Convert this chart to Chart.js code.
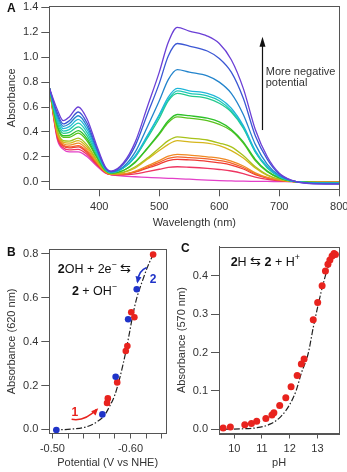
<!DOCTYPE html>
<html>
<head>
<meta charset="utf-8">
<script src="https://cdn.jsdelivr.net/npm/chart.js@4.4.0/dist/chart.umd.min.js"></script>
<style>
  body { margin: 0; background: #fff; }
  canvas { position: absolute; }
  .panel { position: absolute; font: bold 12px 'Liberation Sans', Arial, sans-serif; line-height: 12px; color: #111; }
</style>
</head>
<body>
<canvas id="chartA" width="347" height="232" style="left:0;top:0"></canvas>
<canvas id="chartB" width="173" height="240" style="left:0;top:232px"></canvas>
<canvas id="chartC" width="174" height="240" style="left:173px;top:232px"></canvas>
<div class="panel" style="left:7px;top:2px">A</div>
<div class="panel" style="left:7px;top:246px">B</div>
<div class="panel" style="left:181px;top:242px">C</div>
<script>
// ---- panel A: spectra ----
const wavelengths = [317, 330, 340, 350, 365, 380, 395, 410, 420, 440, 460, 480, 500, 515, 530, 550, 580, 600, 620, 640, 660, 680, 700, 720, 750, 800];
const absViolet  = [0.75, 0.58, 0.49, 0.52, 0.60, 0.50, 0.30, 0.12, 0.085, 0.15, 0.32, 0.60, 0.88, 1.12, 1.24, 1.21, 1.17, 1.11, 0.98, 0.75, 0.42, 0.20, 0.068, 0.012, -0.015, -0.02];
const absBlue    = [0.75, 0.553, 0.464, 0.489, 0.56, 0.467, 0.281, 0.114, 0.082, 0.14, 0.29, 0.54, 0.79, 1.01, 1.11, 1.09, 1.05, 0.99, 0.88, 0.67, 0.37, 0.18, 0.061, 0.011, -0.013, -0.018];
const absSky     = [0.75, 0.533, 0.445, 0.466, 0.53, 0.442, 0.267, 0.11, 0.079, 0.12, 0.24, 0.44, 0.65, 0.82, 0.90, 0.88, 0.85, 0.80, 0.71, 0.54, 0.30, 0.14, 0.05, 0.009, -0.01, -0.015];
const absCyan    = [0.75, 0.513, 0.426, 0.442, 0.50, 0.417, 0.253, 0.106, 0.077, 0.11, 0.21, 0.37, 0.54, 0.68, 0.75, 0.73, 0.71, 0.67, 0.59, 0.45, 0.25, 0.12, 0.042, 0.007, -0.008, -0.012];
const absAqua    = [0.75, 0.493, 0.407, 0.419, 0.47, 0.392, 0.239, 0.102, 0.074, 0.11, 0.20, 0.36, 0.53, 0.66, 0.73, 0.71, 0.69, 0.65, 0.57, 0.44, 0.24, 0.12, 0.04, 0.007, -0.008, -0.012];
const absTeal    = [0.75, 0.473, 0.388, 0.396, 0.44, 0.367, 0.225, 0.098, 0.072, 0.11, 0.20, 0.35, 0.51, 0.65, 0.71, 0.69, 0.67, 0.63, 0.56, 0.43, 0.24, 0.11, 0.04, 0.007, -0.007, -0.01];
const absGreen   = [0.75, 0.453, 0.369, 0.372, 0.41, 0.342, 0.21, 0.094, 0.069, 0.09, 0.16, 0.27, 0.39, 0.49, 0.54, 0.53, 0.51, 0.48, 0.42, 0.32, 0.18, 0.085, 0.03, 0.005, -0.005, -0.008];
const absLime    = [0.75, 0.44, 0.356, 0.357, 0.39, 0.325, 0.201, 0.091, 0.068, 0.09, 0.155, 0.265, 0.38, 0.475, 0.52, 0.51, 0.49, 0.46, 0.41, 0.31, 0.17, 0.08, 0.03, 0.005, -0.005, -0.008];
const absOlive   = [0.75, 0.413, 0.33, 0.326, 0.35, 0.292, 0.182, 0.085, 0.064, 0.076, 0.12, 0.19, 0.27, 0.33, 0.36, 0.35, 0.335, 0.31, 0.28, 0.21, 0.12, 0.056, 0.02, 0.004, -0.004, -0.005];
const absYellow  = [0.75, 0.40, 0.318, 0.31, 0.33, 0.275, 0.173, 0.083, 0.063, 0.073, 0.11, 0.18, 0.25, 0.30, 0.33, 0.32, 0.31, 0.29, 0.25, 0.19, 0.11, 0.05, 0.018, 0.003, -0.003, -0.005];
const absOrange  = [0.75, 0.387, 0.305, 0.294, 0.31, 0.258, 0.163, 0.08, 0.061, 0.063, 0.086, 0.127, 0.17, 0.205, 0.22, 0.214, 0.20, 0.19, 0.166, 0.126, 0.071, 0.034, 0.012, 0.002, -0.002, -0.004];
const absVermil  = [0.75, 0.373, 0.292, 0.279, 0.29, 0.242, 0.154, 0.077, 0.059, 0.061, 0.081, 0.118, 0.156, 0.187, 0.20, 0.194, 0.183, 0.17, 0.15, 0.114, 0.064, 0.031, 0.011, 0.002, -0.002, -0.003];
const absRed     = [0.75, 0.367, 0.286, 0.271, 0.28, 0.233, 0.149, 0.076, 0.058, 0.06, 0.077, 0.109, 0.142, 0.169, 0.18, 0.175, 0.164, 0.152, 0.134, 0.102, 0.057, 0.028, 0.01, 0.002, -0.002, -0.003];
const absRose    = [0.75, 0.353, 0.273, 0.256, 0.26, 0.217, 0.14, 0.073, 0.057, 0.054, 0.063, 0.081, 0.10, 0.115, 0.12, 0.116, 0.107, 0.098, 0.086, 0.065, 0.037, 0.018, 0.007, 0.001, -0.001, -0.002];
const absMagenta = [0.75, 0.34, 0.26, 0.24, 0.24, 0.20, 0.13, 0.07, 0.055, 0.045, 0.04, 0.035, 0.03, 0.027, 0.025, 0.02, 0.012, 0.008, 0.006, 0.004, 0.003, 0.002, 0.001, 0, 0, 0];
const wlTicks = [400, 500, 600, 700, 800];
const absTicksA = [0, 0.2, 0.4, 0.6, 0.8, 1.0, 1.2, 1.4];

// ---- panel B: absorbance at 620 nm vs potential ----
const potRed = [-0.629, -0.605, -0.601, -0.596, -0.594, -0.583, -0.571, -0.570];
const absRedB = [0.797, 0.511, 0.534, 0.380, 0.357, 0.214, 0.141, 0.120];
const potBlue = [-0.505, -0.564, -0.581, -0.597, -0.608];
const absBlueB = [-0.003, 0.068, 0.240, 0.502, 0.639];
const potFit = [-0.501, -0.527, -0.544, -0.556, -0.566, -0.573, -0.580, -0.585, -0.590, -0.5945, -0.599, -0.603, -0.608, -0.615, -0.622, -0.629];
const absFitB = [-0.003, 0.002, 0.012, 0.032, 0.061, 0.103, 0.157, 0.217, 0.289, 0.362, 0.446, 0.522, 0.598, 0.674, 0.742, 0.797];
const potTicks = [-0.50, -0.52, -0.54, -0.56, -0.58, -0.60, -0.62, -0.64];
const potLabels = [-0.50, -0.60];
const absTicksB = [0, 0.2, 0.4, 0.6, 0.8];

// ---- panel C: absorbance at 570 nm vs pH ----
const phPts = [9.60, 9.86, 10.38, 10.62, 10.81, 11.14, 11.36, 11.43, 11.64, 11.86, 12.05, 12.27, 12.42, 12.52, 12.85, 13.01, 13.17, 13.29, 13.38, 13.45, 13.53, 13.60, 13.65];
const absPts = [0.003, 0.006, 0.012, 0.015, 0.021, 0.028, 0.037, 0.043, 0.062, 0.082, 0.111, 0.140, 0.170, 0.183, 0.285, 0.330, 0.374, 0.412, 0.430, 0.441, 0.451, 0.458, 0.455];
const phFit = [9.57, 10.2, 10.81, 11.31, 11.68, 11.99, 12.23, 12.42, 12.67, 12.85, 13.04, 13.22, 13.41, 13.6, 13.68];
const absFitC = [0.0, 0.001, 0.004, 0.014, 0.033, 0.063, 0.10, 0.146, 0.198, 0.265, 0.328, 0.382, 0.427, 0.452, 0.458];
const phTicks = [10, 11, 12, 13];
const absTicksC = [0, 0.1, 0.2, 0.3, 0.4];

const FONT = "'Liberation Sans', Arial, sans-serif";
const AXIS = '#555';
const TXT = '#333';

const spectra = [absViolet, absBlue, absSky, absCyan, absAqua, absTeal, absGreen, absLime, absOlive, absYellow, absOrange, absVermil, absRed, absRose, absMagenta];
const spectraColors = ['#6b3fd6', '#3b57d4', '#2384cc', '#1fb6d8', '#1ccab8', '#22c98c', '#2fc12a', '#59c21c', '#a8c21a', '#d6b61c', '#f08a24', '#f2602a', '#ef3a34', '#ee3561', '#e33fc8'];

const xy = (xs, ys) => xs.map((x, i) => ({ x: x, y: ys[i] }));

// box around the plot area
const framePlugin = {
  id: 'frame',
  afterDatasetsDraw(chart) {
    const { ctx, chartArea: a } = chart;
    ctx.save();
    ctx.strokeStyle = AXIS;
    ctx.lineWidth = 1;
    ctx.strokeRect(Math.round(a.left) + 0.5, Math.round(a.top) + 0.5, Math.round(a.right - a.left), Math.round(a.bottom - a.top));
    ctx.restore();
  }
};

function axis(min, max, ticks, fmt, title, fitSize, isX, tickLen, titlePad) {
  return {
    type: 'linear', min: min, max: max,
    afterBuildTicks: s => { s.ticks = ticks.map(v => ({ value: v })); },
    afterFit: s => {
      if (isX) { s.height = fitSize; s.paddingLeft = 0; s.paddingRight = 0; }
      else { s.width = fitSize; s.paddingTop = 0; s.paddingBottom = 0; }
    },
    ticks: { callback: fmt, color: TXT, font: { family: FONT, size: 11 }, padding: isX ? 4 : 3, maxRotation: 0, autoSkip: false },
    grid: { drawOnChartArea: false, tickLength: tickLen, color: AXIS },
    border: { color: AXIS },
    title: { display: true, text: title, color: TXT, font: { family: FONT, size: 11 }, padding: titlePad }
  };
}

function arrowHead(ctx, x, y, ang, len, wid) {
  ctx.beginPath();
  ctx.moveTo(x, y);
  ctx.lineTo(x - len * Math.cos(ang) + wid / 2 * Math.sin(ang), y - len * Math.sin(ang) - wid / 2 * Math.cos(ang));
  ctx.lineTo(x - len * Math.cos(ang) - wid / 2 * Math.sin(ang), y - len * Math.sin(ang) + wid / 2 * Math.cos(ang));
  ctx.closePath();
  ctx.fill();
}

function drawRuns(ctx, runs, x, y, size, align) {
  const fontOf = r => (r.b ? 'bold ' : '') + (r.sup ? size * 0.7 : size) + 'px ' + FONT;
  let total = 0;
  runs.forEach(r => { ctx.font = fontOf(r); total += ctx.measureText(r.t).width; });
  let cx = align === 'center' ? x - total / 2 : x;
  ctx.textAlign = 'left';
  ctx.textBaseline = 'alphabetic';
  runs.forEach(r => {
    ctx.font = fontOf(r);
    ctx.fillText(r.t, cx, r.sup ? y - size * 0.45 : y);
    cx += ctx.measureText(r.t).width;
  });
}

// ---- chart A ----
new Chart(document.getElementById('chartA'), {
  type: 'line',
  data: {
    datasets: spectra.map((vals, i) => ({
      data: xy(wavelengths, vals),
      borderColor: spectraColors[i],
      borderWidth: 1.3,
      pointRadius: 0,
      cubicInterpolationMode: 'monotone'
    }))
  },
  options: {
    responsive: false, animation: false, devicePixelRatio: 1,
    layout: { padding: { left: 0, top: 6.3, right: 7.7, bottom: 0 } },
    plugins: { legend: { display: false }, tooltip: { enabled: false } },
    scales: {
      x: axis(316.7, 800, wlTicks, v => String(v), 'Wavelength (nm)', 42.7, true, 7, { top: 0, bottom: 2 }),
      y: axis(-0.061, 1.409, absTicksA, v => v.toFixed(1), 'Absorbance', 49.3, false, 8, { top: 5, bottom: 0 })
    }
  },
  plugins: [framePlugin, {
    id: 'noteA',
    afterDraw(chart) {
      const { ctx, scales: { x, y } } = chart;
      const ax = x.getPixelForValue(672);
      const y0 = y.getPixelForValue(0.415), y1 = y.getPixelForValue(1.165);
      ctx.save();
      ctx.strokeStyle = '#111'; ctx.fillStyle = '#111'; ctx.lineWidth = 1.2;
      ctx.beginPath(); ctx.moveTo(ax, y0); ctx.lineTo(ax, y1 + 8); ctx.stroke();
      arrowHead(ctx, ax, y1, -Math.PI / 2, 10, 6);
      ctx.fillStyle = TXT;
      ctx.font = '11px ' + FONT;
      ctx.textAlign = 'left'; ctx.textBaseline = 'alphabetic';
      const tx = x.getPixelForValue(677.4);
      ctx.fillText('More negative', tx, y.getPixelForValue(0.861));
      ctx.fillText('potential', tx, y.getPixelForValue(0.769));
      ctx.restore();
    }
  }]
});

const fitStyle = { borderColor: '#222', borderWidth: 1.2, borderDash: [6, 2, 1.5, 2], pointRadius: 0, showLine: true, cubicInterpolationMode: 'monotone' };

// ---- chart B ----
new Chart(document.getElementById('chartB'), {
  type: 'scatter',
  data: {
    datasets: [
      { data: xy(potBlue, absBlueB), backgroundColor: '#1f33c8', borderWidth: 0, pointRadius: 3.3 },
      { data: xy(potRed, absRedB), backgroundColor: '#e8231e', borderWidth: 0, pointRadius: 3.3 },
      Object.assign({ data: xy(potFit, absFitB) }, fitStyle)
    ]
  },
  options: {
    responsive: false, animation: false, devicePixelRatio: 1,
    layout: { padding: { left: 0, top: 17.3, right: 7, bottom: 0 } },
    plugins: { legend: { display: false }, tooltip: { enabled: false } },
    scales: {
      x: Object.assign(axis(-0.6455, -0.496, potTicks,
        v => potLabels.some(p => Math.abs(p - v) < 1e-6) ? v.toFixed(2) : '',
        'Potential (V vs NHE)', 38.5, true, 5, { top: 0, bottom: 2 }), { reverse: true }),
      y: axis(-0.019, 0.821, absTicksB, v => v.toFixed(1), 'Absorbance (620 nm)', 49.3, false, 8, { top: 5, bottom: 0 })
    }
  },
  plugins: [framePlugin, {
    id: 'noteB',
    afterDraw(chart) {
      const { ctx, scales: { x, y } } = chart;
      ctx.save();
      ctx.fillStyle = '#111';
      const cx = x.getPixelForValue(-0.5538);
      drawRuns(ctx, [{ t: '2', b: 1 }, { t: 'OH + 2e' }, { t: '\u2212', sup: 1 }, { t: ' \u21c6' }], cx, y.getPixelForValue(0.714), 12.5, 'center');
      drawRuns(ctx, [{ t: '2', b: 1 }, { t: ' + OH' }, { t: '\u2212', sup: 1 }], cx, y.getPixelForValue(0.614), 12.5, 'center');
      // red arrow 1
      const P = (v, a) => [x.getPixelForValue(v), y.getPixelForValue(a)];
      let s = P(-0.5246, 0.0457), c = P(-0.5417, 0.0347), e = P(-0.5567, 0.0913);
      ctx.strokeStyle = '#e8231e'; ctx.fillStyle = '#e8231e'; ctx.lineWidth = 1.6;
      ctx.beginPath(); ctx.moveTo(s[0], s[1]); ctx.quadraticCurveTo(c[0], c[1], e[0], e[1]); ctx.stroke();
      arrowHead(ctx, e[0] + 1.5, e[1] - 1, Math.atan2(e[1] - c[1], e[0] - c[0]), 7, 6);
      let t = P(-0.5288, 0.0744);
      ctx.font = 'bold 12px ' + FONT; ctx.textAlign = 'center'; ctx.textBaseline = 'middle';
      ctx.fillText('1', t[0], t[1]);
      // blue arrow 2
      s = P(-0.6208, 0.738); c = P(-0.6113, 0.727); e = P(-0.6087, 0.674);
      ctx.strokeStyle = '#1f33c8'; ctx.fillStyle = '#1f33c8';
      ctx.beginPath(); ctx.moveTo(s[0], s[1]); ctx.quadraticCurveTo(c[0], c[1], e[0], e[1]); ctx.stroke();
      arrowHead(ctx, e[0], e[1] + 2, Math.atan2(e[1] - c[1], e[0] - c[0]), 7, 6);
      t = P(-0.6288, 0.682);
      ctx.fillText('2', t[0], t[1]);
      ctx.restore();
    }
  }]
});

// ---- chart C ----
new Chart(document.getElementById('chartC'), {
  type: 'scatter',
  data: {
    datasets: [
      { data: xy(phPts, absPts), backgroundColor: '#e8231e', borderWidth: 0, pointRadius: 3.5 },
      Object.assign({ data: xy(phFit, absFitC) }, fitStyle)
    ]
  },
  options: {
    responsive: false, animation: false, devicePixelRatio: 1,
    layout: { padding: { left: 0, top: 14.7, right: 7.7, bottom: 0 } },
    plugins: { legend: { display: false }, tooltip: { enabled: false } },
    scales: {
      x: axis(9.45, 13.79, phTicks, v => String(v), 'pH', 38.5, true, 5, { top: 0, bottom: 2 }),
      y: axis(-0.011, 0.4755, absTicksC, v => v.toFixed(1), 'Absorbance (570 nm)', 46, false, 8, { top: 2, bottom: 0 })
    }
  },
  plugins: [framePlugin, {
    id: 'noteC',
    afterDraw(chart) {
      const { ctx, scales: { x, y } } = chart;
      ctx.save();
      ctx.fillStyle = '#111';
      drawRuns(ctx, [{ t: '2', b: 1 }, { t: 'H \u21c6 ' }, { t: '2', b: 1 }, { t: ' + H' }, { t: '+', sup: 1 }],
        x.getPixelForValue(9.87), y.getPixelForValue(0.425), 12.5, 'left');
      ctx.restore();
    }
  }]
});
</script>
</body>
</html>
